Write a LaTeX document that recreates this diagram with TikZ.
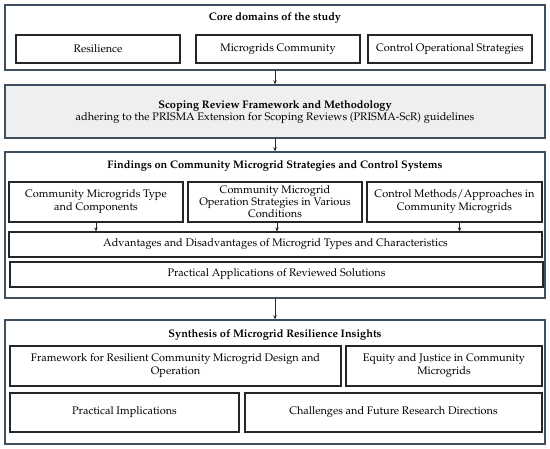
\documentclass[tikz,border=0pt]{standalone}
\usepackage[T1]{fontenc}
\usepackage{mathpazo}
\usetikzlibrary{arrows.meta}
\definecolor{outerc}{HTML}{3E5060}
\definecolor{innerc}{HTML}{262626}
\definecolor{grayfill}{HTML}{EFEFEF}
\tikzset{
  outerbox/.style={draw=outerc, line width=1.4bp, fill=white, inner sep=0pt},
  graybox/.style={draw=outerc, line width=1.4bp, fill=grayfill, inner sep=0pt},
  innerbox/.style={draw=innerc, line width=1.1bp, fill=white, inner sep=0pt, align=center, font=\fontsize{11}{13}\selectfont},
  titletext/.style={font=\fontsize{11}{13}\selectfont\bfseries, inner sep=0pt},
  arr/.style={draw=innerc, line width=0.8bp, -{Stealth[length=4bp,width=3.5bp]}}
}
\newcommand{\boxnode}[6]{% style, name, x1, y1, x2, y2
  \pgfmathsetmacro{\cx}{(#3+#5)/2}\pgfmathsetmacro{\cy}{(#4+#6)/2}
  \pgfmathsetmacro{\ww}{#5-#3}\pgfmathsetmacro{\hh}{#6-#4}
  \node[#1, minimum width=\ww bp, minimum height=\hh bp] (#2) at (\cx,\cy) {};}
\begin{document}
\begin{tikzpicture}[x=1bp,y=-1bp]
\useasboundingbox (0,0) rectangle (550,449);
% outer boxes
\boxnode{outerbox}{A}{5}{5}{545}{70}
\boxnode{graybox}{B}{5}{85}{545}{138}
\boxnode{outerbox}{C}{5}{152}{545}{298}
\boxnode{outerbox}{D}{5}{320}{545}{444}
% titles
\node[titletext] (At) at (275,18) {Core domains of the study};
\node[titletext] (Bt) at (275,105.5) {Scoping Review Framework and Methodology};
\node[inner sep=0pt, font=\fontsize{11}{13}\selectfont] (Bs) at (275,118.5) {adhering to the PRISMA Extension for Scoping Reviews (PRISMA-ScR) guidelines};
\node[titletext] (Ct) at (275,166) {Findings on Community Microgrid Strategies and Control Systems};
\node[titletext] (Dt) at (275,335) {Synthesis of Microgrid Resilience Insights};
% inner A
\boxnode{innerbox}{a1}{16}{35}{180}{63}
\boxnode{innerbox}{a2}{196}{35}{360}{63}
\boxnode{innerbox}{a3}{368}{35}{532}{63}
\node[innerbox, draw=none, fill=none] at (a1) {Resilience};
\node[innerbox, draw=none, fill=none] at (a2) {Microgrids Community};
\node[innerbox, draw=none, fill=none] at (a3) {Control Operational Strategies};
% inner C
\boxnode{innerbox}{c1}{9}{182}{183}{222}
\boxnode{innerbox}{c2}{188}{182}{362}{222}
\boxnode{innerbox}{c3}{367}{182}{542}{222}
\boxnode{innerbox}{c4}{9}{232}{542}{257}
\boxnode{innerbox}{c5}{10}{262}{543}{287}
\node[innerbox, draw=none, fill=none] at (c1) {Community Microgrids Type\\and Components};
\node[innerbox, draw=none, fill=none, font=\fontsize{11}{12}\selectfont] at (c2) {Community Microgrid\\Operation Strategies in Various\\Conditions};
\node[innerbox, draw=none, fill=none] at (c3) {Control Methods/Approaches in\\Community Microgrids};
\node[innerbox, draw=none, fill=none] at (c4) {Advantages and Disadvantages of Microgrid Types and Characteristics};
\node[innerbox, draw=none, fill=none] at (c5) {Practical Applications of Reviewed Solutions};
% inner D
\boxnode{innerbox}{d1}{10}{346}{341}{386}
\boxnode{innerbox}{d2}{346}{346}{542}{386}
\boxnode{innerbox}{d3}{10}{393}{239}{432}
\boxnode{innerbox}{d4}{245}{393}{542}{432}
\node[innerbox, draw=none, fill=none] at (d1) {Framework for Resilient Community Microgrid Design and\\Operation};
\node[innerbox, draw=none, fill=none] at (d2) {Equity and Justice in Community\\Microgrids};
\node[innerbox, draw=none, fill=none] at (d3) {Practical Implications};
\node[innerbox, draw=none, fill=none] at (d4) {Challenges and Future Research Directions};
% arrows between sections
\draw[arr] (A.south) -- (B.north);
\draw[arr] (B.south) -- (C.north);
\draw[arr] (C.south) -- (D.north);
% arrows within C
\draw[arr] (c1.south) -- (c1.south |- c4.north);
\draw[arr] ([xshift=2bp]c2.south) -- ([xshift=2bp]c2.south |- c4.north);
\draw[arr] ([xshift=5bp]c3.south) -- ([xshift=5bp]c3.south |- c4.north);
\end{tikzpicture}
\end{document}
